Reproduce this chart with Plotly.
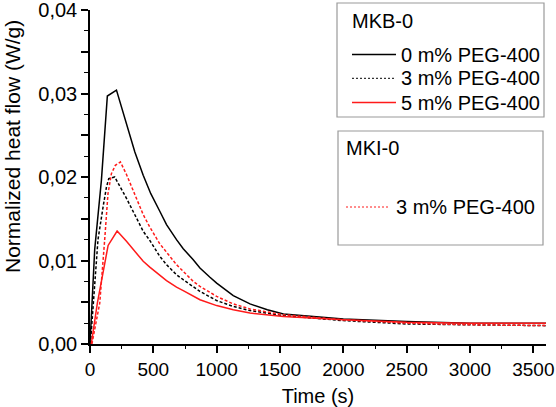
import plotly.graph_objects as go

# ---------------- data ----------------
t_mkb0_0 = [0, 37, 90, 137, 209, 288, 354, 420, 480, 551, 604, 683, 736, 815, 868, 947, 1000, 1131, 1263,
            1400, 1527, 2000, 2500, 3000, 3600]
q_mkb0_0 = [0.0, 0.0113, 0.0196, 0.0297, 0.0304, 0.0262, 0.0230, 0.0202, 0.0180, 0.0159, 0.0143, 0.0125,
            0.0114, 0.0101, 0.0091, 0.0080, 0.0073, 0.0058, 0.0048, 0.0041, 0.0036, 0.0030, 0.0027, 0.0025, 0.0025]

t_mkb0_3 = [3, 63, 103, 130, 148, 195, 288, 354, 420, 472, 551, 604, 683, 736, 868, 1000, 1131, 1263, 1527,
            2000, 2500, 3000, 3600]
q_mkb0_3 = [0.0, 0.0125, 0.0164, 0.0188, 0.0198, 0.0200, 0.01745, 0.01545, 0.0135, 0.0124, 0.0105, 0.0095,
            0.0083, 0.0077, 0.0063, 0.0052, 0.0045, 0.0040, 0.0034, 0.0028, 0.0024, 0.0023, 0.0022]

t_mkb0_5 = [10, 58, 143, 214, 288, 354, 420, 472, 551, 604, 683, 736, 868, 1000, 1131, 1263, 1527, 2000,
            2500, 3000, 3600]
q_mkb0_5 = [0.0, 0.0049, 0.0118, 0.01353, 0.0123, 0.0111, 0.0099, 0.0092, 0.0082, 0.0076, 0.0068, 0.0064,
            0.0053, 0.0046, 0.0041, 0.0037, 0.0033, 0.0029, 0.0026, 0.0025, 0.0025]

t_mki0_3 = [15, 77, 116, 142, 169, 200, 240, 288, 354, 420, 472, 551, 604, 683, 736, 815, 868, 1000, 1131,
            1263, 1527, 2000, 2500, 3000, 3600]
q_mki0_3 = [0.0, 0.0049, 0.0125, 0.0180, 0.0204, 0.0214, 0.0218, 0.0203, 0.0179, 0.0155, 0.0140, 0.0120,
            0.0110, 0.0095, 0.0087, 0.0075, 0.0069, 0.0057, 0.0048, 0.0042, 0.0035, 0.0029, 0.0025, 0.0023, 0.0022]

y_tickvals = [0, 0.005, 0.01, 0.015, 0.02, 0.025, 0.03, 0.035, 0.04]
y_ticktext = ["0,00", "", "0,01", "", "0,02", "", "0,03", "", "0,04"]

legend1_title = "MKB-0"
legend1_labels = ["0 m% PEG-400", "3 m% PEG-400", "5 m% PEG-400"]
legend2_title = "MKI-0"
legend2_labels = ["3 m% PEG-400"]

RED = "#ff1a1a"
FONT = "Liberation Sans, Arial, sans-serif"

fig = go.Figure()
fig.add_trace(go.Scatter(x=t_mkb0_0, y=q_mkb0_0, mode="lines", name=legend1_labels[0],
                         line=dict(color="black", width=1.5), showlegend=False))
fig.add_trace(go.Scatter(x=t_mkb0_3, y=q_mkb0_3, mode="lines", name=legend1_labels[1],
                         line=dict(color="black", width=1.5, dash="3px,2px"), showlegend=False))
fig.add_trace(go.Scatter(x=t_mkb0_5, y=q_mkb0_5, mode="lines", name=legend1_labels[2],
                         line=dict(color=RED, width=1.5), showlegend=False))
fig.add_trace(go.Scatter(x=t_mki0_3, y=q_mki0_3, mode="lines", name=legend2_labels[0],
                         line=dict(color=RED, width=1.5, dash="3px,2px"), showlegend=False))

# ---------------- layout ----------------
W, H = 556, 407
ML, MR, MT, MB = 90, 10, 10, 63
PW, PH = W - ML - MR, H - MT - MB


def px(xp):
    return (xp - ML) / PW


def py(yp):
    return (H - MB - yp) / PH


shapes = []
annotations = []
TXT = dict(size=20, color="black", family=FONT)

# legend box 1
shapes.append(dict(type="rect", xref="paper", yref="paper", x0=px(337), x1=px(544), y0=py(117), y1=py(3),
                   line=dict(color="#9a9a9a", width=1.2), fillcolor="white", layer="above"))
annotations.append(dict(xref="paper", yref="paper", x=px(350), y=py(20.5), text=legend1_title,
                        showarrow=False, xanchor="left", yanchor="middle", font=TXT))
row_y = [54.5, 78.3, 102.6]
styles = [dict(color="black", width=1.5), dict(color="black", width=1, dash="2px,2px"), dict(color=RED, width=1.5)]
for lab, yy, st in zip(legend1_labels, row_y, styles):
    shapes.append(dict(type="line", xref="paper", yref="paper", x0=px(352), x1=px(396), y0=py(yy), y1=py(yy), line=st))
    annotations.append(dict(xref="paper", yref="paper", x=px(399), y=py(yy), text=lab, showarrow=False,
                            xanchor="left", yanchor="middle", font=TXT))

# legend box 2
shapes.append(dict(type="rect", xref="paper", yref="paper", x0=px(338), x1=px(543), y0=py(245), y1=py(131),
                   line=dict(color="#9a9a9a", width=1.2), fillcolor="white", layer="above"))
annotations.append(dict(xref="paper", yref="paper", x=px(344), y=py(148), text=legend2_title,
                        showarrow=False, xanchor="left", yanchor="middle", font=TXT))
shapes.append(dict(type="line", xref="paper", yref="paper", x0=px(346), x1=px(388), y0=py(207), y1=py(207),
                   line=dict(color=RED, width=1, dash="2px,2px")))
annotations.append(dict(xref="paper", yref="paper", x=px(394), y=py(207), text=legend2_labels[0], showarrow=False,
                        xanchor="left", yanchor="middle", font=TXT))

# y axis title
annotations.append(dict(xref="paper", yref="paper", x=px(12), y=py(147), text="Normalized heat flow (W/g)",
                        textangle=-90, showarrow=False, xanchor="center", yanchor="middle",
                        font=dict(size=21, color="black", family=FONT)))

fig.update_layout(
    width=W, height=H,
    margin=dict(l=ML, r=MR, t=MT, b=MB),
    paper_bgcolor="white", plot_bgcolor="white",
    font=dict(family=FONT, color="black", size=19),
    shapes=shapes, annotations=annotations,
    showlegend=False,
)
fig.update_xaxes(
    range=[0, 3600], showgrid=False, zeroline=False, automargin=False,
    showline=True, linecolor="black", linewidth=1.5,
    ticks="outside", ticklen=7, tickwidth=1.5, tickcolor="black",
    dtick=500, tick0=0,
    minor=dict(dtick=250, ticks="outside", ticklen=3, tickwidth=1.2, tickcolor="black", showgrid=False),
    tickfont=dict(size=19), title=dict(text="Time (s)", font=dict(size=20), standoff=14),
)
fig.update_yaxes(
    range=[0, 0.04], showgrid=False, zeroline=False, automargin=False,
    showline=True, linecolor="black", linewidth=1.5,
    ticks="outside", ticklen=7, tickwidth=1.5, tickcolor="black",
    tickvals=y_tickvals, ticktext=y_ticktext, ticklabeloverflow="allow",
    minor=dict(tickvals=[0.0025, 0.0075, 0.0125, 0.0175, 0.0225, 0.0275, 0.0325, 0.0375],
               ticks="outside", ticklen=4, tickwidth=1.2, tickcolor="black", showgrid=False),
    tickfont=dict(size=20),
)

fig.write_html("out.html")
